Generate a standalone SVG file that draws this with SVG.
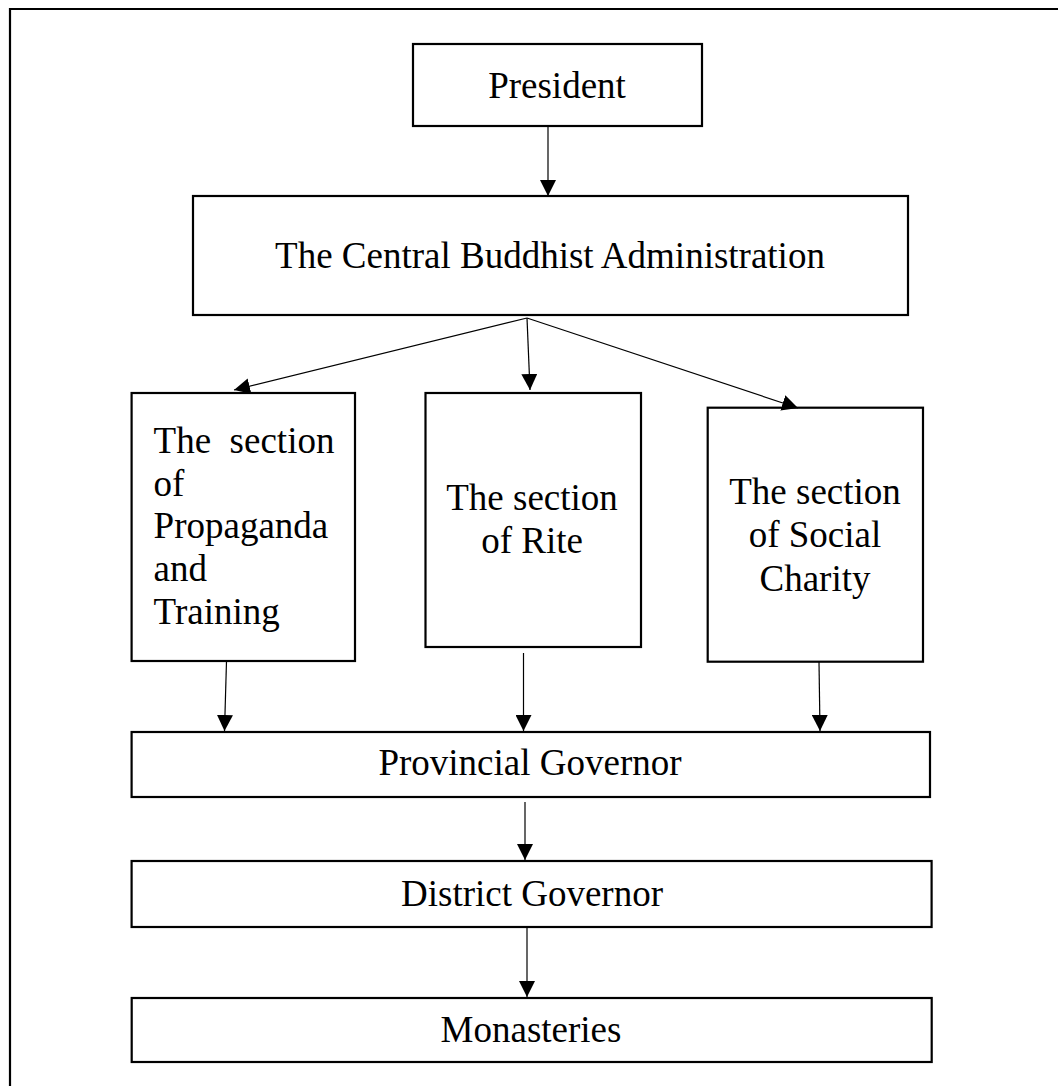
<svg xmlns="http://www.w3.org/2000/svg" width="1058" height="1086" viewBox="0 0 1058 1086">
<style>
.box{fill:#fff;stroke:#000;stroke-width:2.2}
.t{font-family:"Liberation Serif","Times New Roman",serif;font-size:37px;fill:#000}
.c{text-anchor:middle}
.ln{stroke:#000;stroke-width:1.2;fill:none;marker-end:url(#ah)}
</style>
<defs>
<marker id="ah" markerUnits="userSpaceOnUse" markerWidth="16" markerHeight="16" viewBox="0 0 14 14" refX="14" refY="7" orient="auto">
<path d="M0,0 L14,7 L0,14 Z" fill="#000"/>
</marker>
</defs>
<rect width="1058" height="1086" fill="#fff"/>
<path d="M10,1086 V9 H1058" fill="none" stroke="#000" stroke-width="2.2"/>
<g id="president"><rect class="box" x="413" y="44" width="289" height="82"/><text class="t c" x="557" y="98">President</text></g>
<g id="cba"><rect class="box" x="193" y="196" width="715" height="119"/><text class="t c" x="550" y="268">The Central Buddhist Administration</text></g>
<g id="propaganda"><rect class="box" x="131.6" y="393" width="223.4" height="268"/>
<text class="t" x="153.6" y="453" xml:space="preserve">The  section</text>
<text class="t" x="153.6" y="496">of</text>
<text class="t" x="153.6" y="538">Propaganda</text>
<text class="t" x="153.6" y="581">and</text>
<text class="t" x="153.6" y="624">Training</text></g>
<g id="rite"><rect class="box" x="425.5" y="393" width="215.5" height="254"/>
<text class="t c" x="532" y="510">The section</text>
<text class="t c" x="532" y="553">of Rite</text></g>
<g id="charity"><rect class="box" x="707.7" y="407.7" width="215.3" height="254"/>
<text class="t c" x="815" y="504">The section</text>
<text class="t c" x="815" y="547">of Social</text>
<text class="t c" x="815" y="591">Charity</text></g>
<g id="provincial"><rect class="box" x="131.6" y="732" width="798.4" height="65"/><text class="t c" x="530" y="775">Provincial Governor</text></g>
<g id="district"><rect class="box" x="131.6" y="861" width="800" height="66"/><text class="t c" x="532" y="906">District Governor</text></g>
<g id="monasteries"><rect class="box" x="131.7" y="998" width="800" height="64"/><text class="t c" x="531" y="1042">Monasteries</text></g>
<g id="connectors">
<line class="ln" x1="548" y1="126" x2="548" y2="196"/>
<line class="ln" x1="527" y1="318" x2="234" y2="390"/>
<line class="ln" x1="527" y1="318" x2="530" y2="390"/>
<line class="ln" x1="527" y1="318" x2="798" y2="408"/>
<line class="ln" x1="226.5" y1="661" x2="224.5" y2="731"/>
<line class="ln" x1="523.5" y1="653" x2="523.5" y2="731"/>
<line class="ln" x1="819" y1="662" x2="820" y2="731"/>
<line class="ln" x1="525" y1="802" x2="525" y2="860"/>
<line class="ln" x1="527" y1="927" x2="527" y2="997"/>
</g>
</svg>
